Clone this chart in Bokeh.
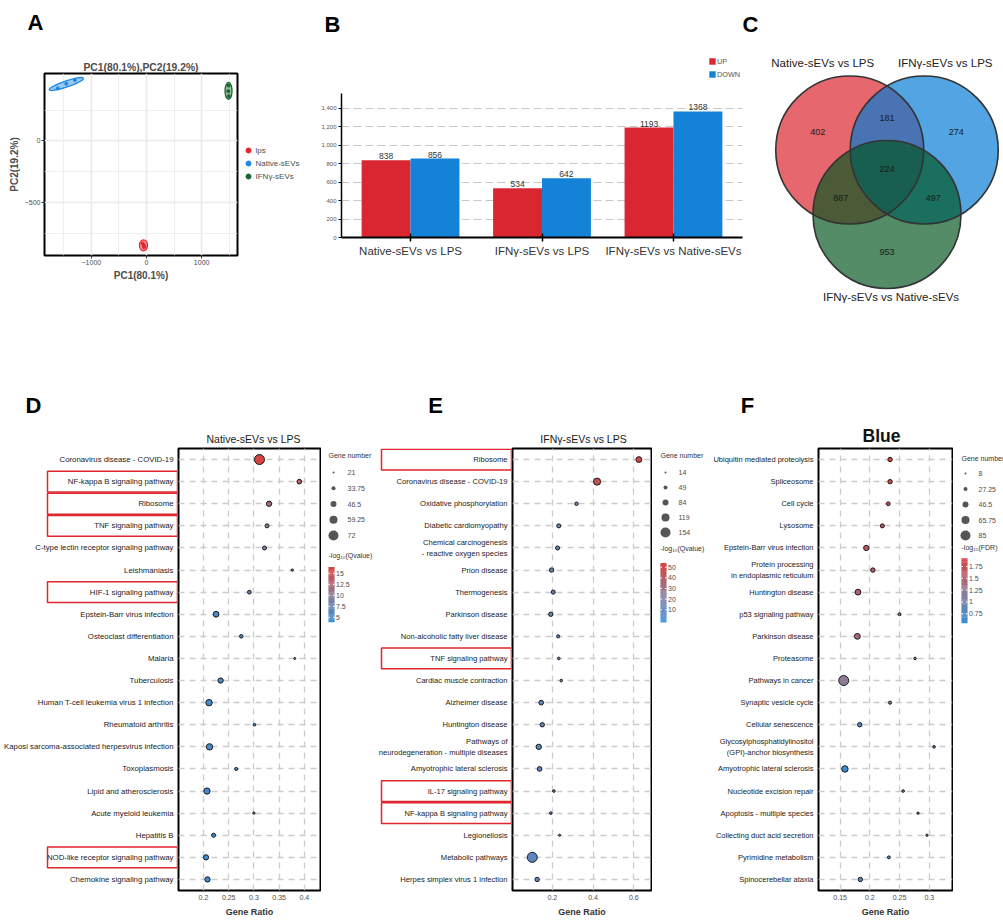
import numpy as np
from bokeh.plotting import figure
from bokeh.models import (Range1d, FactorRange, ColumnDataSource, Legend, LegendItem,
                          FixedTicker, NumeralTickFormatter, LinearColorMapper,
                          CustomJSTickFormatter, Grid, CategoricalTicker)
from bokeh.layouts import row, column
from bokeh.embed import file_html
from bokeh.resources import INLINE
from bokeh.core.properties import value
from bokeh.transform import dodge, transform

FONT = "Liberation Sans"

# ---------------- A: PCA ----------------
pca_groups = ["lps", "Native-sEVs", "IFNγ-sEVs"]
pc1_lps = [-70, -45, -50]
pc2_lps = [-828, -858, -842]
pc1_native = [-1610, -1455, -1300]
pc2_native = [425, 462, 492]
pc1_ifn = [1488, 1482, 1492]
pc2_ifn = [448, 402, 362]

# ---------------- B: DEG counts ----------------
deg_comparisons = ["Native-sEVs vs LPS", "IFNγ-sEVs vs LPS", "IFNγ-sEVs vs Native-sEVs"]
deg_up = [838, 534, 1193]
deg_down = [856, 642, 1368]
deg_yticks = [0, 200, 400, 600, 800, 1000, 1200, 1400]

# ---------------- C: Venn ----------------
venn_sets = ["Native-sEVs vs LPS", "IFNγ-sEVs vs LPS", "IFNγ-sEVs vs Native-sEVs"]
venn_only = [402, 274, 953]
venn_pair_01 = 181
venn_pair_12 = 497
venn_pair_02 = 887
venn_all = 224

# ---------------- D ----------------
terms_D = ["Coronavirus disease - COVID-19", "NF-kappa B signaling pathway", "Ribosome",
           "TNF signaling pathway", "C-type lectin receptor signaling pathway", "Leishmaniasis",
           "HIF-1 signaling pathway", "Epstein-Barr virus infection", "Osteoclast differentiation",
           "Malaria", "Tuberculosis", "Human T-cell leukemia virus 1 infection",
           "Rheumatoid arthritis", "Kaposi sarcoma-associated herpesvirus infection",
           "Toxoplasmosis", "Lipid and atherosclerosis", "Acute myeloid leukemia", "Hepatitis B",
           "NOD-like receptor signaling pathway", "Chemokine signaling pathway"]
ratio_D = [0.311, 0.390, 0.330, 0.326, 0.321, 0.376, 0.291, 0.225, 0.275, 0.381,
           0.234, 0.211, 0.301, 0.212, 0.265, 0.207, 0.300, 0.220, 0.205, 0.208]
genes_D = [72, 38, 42, 34, 34, 23, 32, 45, 31, 21, 42, 49, 25, 49, 28, 48, 23, 34, 42, 42]
qval_D = [16.4, 13.5, 12.0, 9.6, 8.6, 7.0, 6.5, 5.5, 5.4, 5.2, 5.1, 4.9, 4.8, 4.7, 4.6, 4.5, 4.4, 4.3, 4.2, 4.1]
boxed_D = ["NF-kappa B signaling pathway", "Ribosome", "TNF signaling pathway",
           "HIF-1 signaling pathway", "NOD-like receptor signaling pathway"]
xticks_D = [0.2, 0.25, 0.3, 0.35, 0.4]
size_breaks_D = [21, 33.75, 46.5, 59.25, 72]
cticks_D = [5, 7.5, 10, 12.5, 15]

# ---------------- E ----------------
terms_E = ["Ribosome", "Coronavirus disease - COVID-19", "Oxidative phosphorylation",
           "Diabetic cardiomyopathy", "Chemical carcinogenesis\n- reactive oxygen species",
           "Prion disease", "Thermogenesis", "Parkinson disease", "Non-alcoholic fatty liver disease",
           "TNF signaling pathway", "Cardiac muscle contraction", "Alzheimer disease",
           "Huntington disease", "Pathways of\nneurodegeneration - multiple diseases",
           "Amyotrophic lateral sclerosis", "IL-17 signaling pathway", "NF-kappa B signaling pathway",
           "Legionellosis", "Metabolic pathways", "Herpes simplex virus 1 infection"]
ratio_E = [0.625, 0.420, 0.319, 0.232, 0.226, 0.197, 0.205, 0.193, 0.229, 0.232,
           0.244, 0.146, 0.151, 0.134, 0.138, 0.208, 0.193, 0.236, 0.102, 0.126]
genes_E = [81, 103, 40, 50, 50, 56, 50, 56, 34, 25, 25, 61, 56, 73, 61, 25, 25, 16, 154, 56]
qval_E = [53.8, 46, 16, 13, 12.5, 12, 11.5, 11, 10.8, 10.5, 10.2, 10, 9.8, 9.6, 9.4, 9.2, 9.0, 8.8, 8.6, 8.4]
boxed_E = ["Ribosome", "TNF signaling pathway", "IL-17 signaling pathway", "NF-kappa B signaling pathway"]
xticks_E = [0.2, 0.4, 0.6]
size_breaks_E = [14, 49, 84, 119, 154]
cticks_E = [10, 20, 30, 40, 50]

# ---------------- F ----------------
terms_F = ["Ubiquitin mediated proteolysis", "Spliceosome", "Cell cycle", "Lysosome",
           "Epstein-Barr virus infection", "Protein processing\nin endoplasmic reticulum",
           "Huntington disease", "p53 signaling pathway", "Parkinson disease", "Proteasome",
           "Pathways in cancer", "Synaptic vesicle cycle", "Cellular senescence",
           "Glycosylphosphatidylinositol\n(GPI)-anchor biosynthesis", "Amyotrophic lateral sclerosis",
           "Nucleotide excision repair", "Apoptosis - multiple species",
           "Collecting duct acid secretion", "Pyrimidine metabolism", "Spinocerebellar ataxia"]
ratio_F = [0.234, 0.234, 0.231, 0.221, 0.194, 0.205, 0.180, 0.250, 0.179, 0.276,
           0.156, 0.234, 0.183, 0.308, 0.158, 0.256, 0.281, 0.296, 0.232, 0.184]
genes_F = [31, 31, 25, 28, 40, 31, 45, 17, 45, 14, 85, 19, 31, 14, 51, 14, 11, 11, 17, 31]
fdr_F = [1.92, 1.88, 1.85, 1.75, 1.7, 1.65, 1.55, 1.5, 1.45, 1.4,
         1.2, 1.15, 0.75, 0.75, 0.6, 0.7, 0.7, 0.7, 0.7, 0.7]
boxed_F = []
xticks_F = [0.15, 0.2, 0.25, 0.3]
size_breaks_F = [8, 27.25, 46.5, 65.75, 85]
cticks_F = [0.75, 1, 1.25, 1.5, 1.75]

panel_letters = ["A", "B", "C", "D", "E", "F"]
panel_titles = ["Native-sEVs vs LPS", "IFNγ-sEVs vs LPS", "Blue"]

# ================= helpers =================
W = 1003
HDR1_Y, HDR1_H = 0, 55
ROW1_Y, ROW1_H = 55, 275
HDR2_Y, HDR2_H = 330, 116
ROW2_Y, ROW2_H = 446, 478
FT2, FB2 = 448, 890


def make_fig(x0, y0, w, h, frame, xr, yr, x_axis=True, y_axis=True, title=None):
    fl, ft, frr, fb = frame
    kw = {}
    if not x_axis:
        kw["x_axis_location"] = None
    if not y_axis:
        kw["y_axis_location"] = None
    p = figure(width=w, height=h, x_range=xr, y_range=yr, title=title,
               toolbar_location=None, output_backend="svg",
               min_border_left=fl - x0, min_border_right=x0 + w - frr,
               min_border_top=ft - y0, min_border_bottom=y0 + h - fb, **kw)
    if "frame_align" in p.properties():
        p.frame_align = False
    p.outline_line_color = None
    p.background_fill_color = "white"
    p.border_fill_color = "white"
    return p


def pix_fig(x0, y0, w, h, ft=None, fb=None):
    ft = y0 if ft is None else ft
    fb = y0 + h if fb is None else fb
    p = make_fig(x0, y0, w, h, (x0, ft, x0 + w, fb), Range1d(x0, x0 + w), Range1d(fb, ft),
                 x_axis=False, y_axis=False)
    p.grid.visible = False
    return p


def txt(p, xs, ys, texts, size, bold=False, color="#222222", align="center",
        baseline="middle"):
    p.text(x=xs, y=ys, text=texts, text_font=value(FONT), text_font_size=f"{size}px",
           text_font_style="bold" if bold else "normal", text_color=color,
           text_align=align, text_baseline=baseline)


def lerp_palette(stops, n=256):
    out = []
    for i in range(n):
        t = i / (n - 1) * (len(stops) - 1)
        k = min(int(t), len(stops) - 2)
        f = t - k
        c = [round(stops[k][m] * (1 - f) + stops[k + 1][m] * f) for m in range(3)]
        out.append("#%02x%02x%02x" % tuple(c))
    return out


PALETTE = lerp_palette([(59, 141, 216), (143, 124, 148), (217, 66, 66)])


def dot_size(n, lo, hi):
    return 2.0 + 8.0 * (n - lo) / (hi - lo)


# ================= header (top) =================
hdr1 = pix_fig(0, HDR1_Y, W, HDR1_H)
txt(hdr1, [35, 332, 750], [22, 24, 24], panel_letters[:3], 22, bold=True, color="black")

# ================= Panel A =================
frA = (44, 73, 237, 255)
pA = make_fig(0, ROW1_Y, 239, ROW1_H, frA, Range1d(-1850, 1650), Range1d(-925, 545),
              title="PC1(80.1%),PC2(19.2%)")
pA.title.align = "center"
pA.title.text_font = FONT
pA.title.text_font_size = "10.3px"
pA.title.text_font_style = "bold"
pA.title.text_color = "#4d4d4d"
pA.title.standoff = 2
pA.outline_line_color = "black"
pA.outline_line_width = 2
xtA = FixedTicker(ticks=[-1000, 0, 1000], minor_ticks=[-1500, -500, 500, 1500])
ytA = FixedTicker(ticks=[-500, 0], minor_ticks=[-750, -250, 250])
pA.xaxis.ticker = xtA
pA.xgrid.ticker = xtA
pA.yaxis.ticker = ytA
pA.ygrid.ticker = ytA
for ax in (pA.xaxis[0], pA.yaxis[0]):
    ax.axis_line_color = None
    ax.major_tick_out = 3
    ax.major_tick_in = 0
    ax.major_tick_line_color = "#333333"
    ax.minor_tick_out = 0
    ax.minor_tick_in = 0
    ax.major_label_text_font = FONT
    ax.major_label_text_font_size = "7px"
    ax.major_label_text_color = "#4d4d4d"
    ax.major_label_standoff = 1
    ax.axis_label_text_font = FONT
    ax.axis_label_text_font_size = "10px"
    ax.axis_label_text_font_style = "bold"
    ax.axis_label_text_color = "#4d4d4d"
    ax.axis_label_standoff = 2
pA.xaxis.axis_label = "PC1(80.1%)"
pA.yaxis.axis_label = "PC2(19.2%)"
for g in (pA.xgrid[0], pA.ygrid[0]):
    g.grid_line_color = "#ebebeb"
    g.grid_line_width = 1.6
    g.minor_grid_line_color = "#ebebeb"
    g.minor_grid_line_width = 0.8

colA = ["#e3242b", "#1e88e5", "#17692f"]
pc1s = [pc1_lps, pc1_native, pc1_ifn]
pc2s = [pc2_lps, pc2_native, pc2_ifn]
ell_w = [8, 36, 7]
ell_h = [11, 6, 17]
ell_a = [0, 0.33, 0]
for g, c, xs, ys, ew, eh, ea in zip(pca_groups, colA, pc1s, pc2s, ell_w, ell_h, ell_a):
    pA.ellipse(x=[float(np.mean(xs))], y=[float(np.mean(ys))], width=ew, height=eh, angle=ea,
               width_units="screen", height_units="screen", fill_color=c, fill_alpha=0.45,
               line_color=c, line_width=1.3)
    pA.scatter(x=xs, y=ys, size=3, fill_color=c, line_color=c)

# legend of A (own small figure, right of the panel)
legA = pix_fig(239, ROW1_Y, 71, ROW1_H)
leg_y = [150, 163, 176]
legA.scatter(x=[248] * 3, y=leg_y, size=5, fill_color=colA, line_color=colA)
txt(legA, [255] * 3, leg_y, pca_groups, 8, color="#4d4d4d", align="left")

# ================= Panel B =================
frB = (341, 55, 742, 237)
pB = make_fig(310, ROW1_Y, 447, ROW1_H, frB,
              FactorRange(factors=deg_comparisons, range_padding=0.0167), Range1d(0, 1975))
srcB = ColumnDataSource(dict(cmp=deg_comparisons, up=deg_up, down=deg_down,
                             up_t=[str(v) for v in deg_up], down_t=[str(v) for v in deg_down]))
bw = 0.372
RED, BLUE = "#d92732", "#1482d7"
rU = pB.vbar(x=dodge("cmp", -bw / 2, range=pB.x_range), top="up", width=bw, source=srcB,
             fill_color=RED, line_color=None)
rD = pB.vbar(x=dodge("cmp", bw / 2, range=pB.x_range), top="down", width=bw, source=srcB,
             fill_color=BLUE, line_color=None)
for off, col in ((-bw / 2, "up"), (bw / 2, "down")):
    pB.text(x=dodge("cmp", off, range=pB.x_range), y=col, text=col + "_t", source=srcB,
            text_align="center", text_baseline="bottom", y_offset=-1,
            text_font=value(FONT), text_font_size="8.5px", text_color="#333333")
pB.yaxis.ticker = FixedTicker(ticks=deg_yticks)
pB.yaxis.formatter = NumeralTickFormatter(format="0,0")
pB.yaxis.bounds = (0, 1560)
pB.ygrid.ticker = FixedTicker(ticks=deg_yticks[1:])
pB.ygrid.grid_line_dash = "8 4"
pB.ygrid.grid_line_color = "#c8c8c8"
pB.ygrid.grid_line_width = 1.2
pB.xgrid.visible = False
xa = pB.xaxis[0]
xa.axis_line_width = 2
xa.axis_line_color = "black"
xa.major_tick_in = 4
xa.major_tick_out = 4
xa.major_tick_line_width = 1.5
xa.major_tick_line_color = "black"
xa.major_label_text_font = FONT
xa.major_label_text_font_size = "11.5px"
xa.major_label_text_color = "#333333"
xa.major_label_standoff = 3
ya = pB.yaxis[0]
ya.axis_line_width = 1.5
ya.axis_line_color = "black"
ya.major_tick_out = 3
ya.major_tick_in = 0
ya.major_tick_line_color = "black"
ya.minor_tick_out = 0
ya.minor_tick_in = 0
ya.major_label_text_font = FONT
ya.major_label_text_font_size = "6px"
ya.major_label_text_color = "#555555"
ya.major_label_standoff = 2
legB = Legend(items=[LegendItem(label="UP", renderers=[rU]), LegendItem(label="DOWN", renderers=[rD])],
              location=(367, 158), glyph_width=8, glyph_height=8, label_height=10,
              label_standoff=1, spacing=3, padding=0, margin=0,
              label_text_font=FONT, label_text_font_size="7.3px", label_text_color="#555555",
              border_line_color=None, background_fill_alpha=0)
pB.add_layout(legB)

# ================= Panel C =================
pC = pix_fig(757, ROW1_Y, W - 757, ROW1_H)
cx0, cy0, dist, rad = 886.5, 171.0, 43.0, 74.0
ang = np.radians([150, 30, 270])
ccx = cx0 + dist * np.cos(ang)
ccy = cy0 - dist * np.sin(ang)
venn_cols = ["#dc1f2a", "#0079d4", "#01561f"]
pC.circle(x=ccx, y=ccy, radius=rad, fill_color=venn_cols, fill_alpha=0.68, line_color=None)
pC.circle(x=ccx, y=ccy, radius=rad, fill_color=None, line_color="#333333", line_width=1.6)
ux = (ccx - cx0) / dist
uy = (ccy - cy0) / dist
lab_x, lab_y, lab_t = [], [], []
for i in range(3):
    lab_x.append(ccx[i] + ux[i] * 0.5 * rad)
    lab_y.append(ccy[i] + uy[i] * 0.5 * rad)
    lab_t.append(str(venn_only[i]))
for (i, j), n in (((0, 1), venn_pair_01), ((1, 2), venn_pair_12), ((0, 2), venn_pair_02)):
    mx, my = (ccx[i] + ccx[j]) / 2 - cx0, (ccy[i] + ccy[j]) / 2 - cy0
    nrm = np.hypot(mx, my)
    lab_x.append(cx0 + mx / nrm * 0.72 * rad)
    lab_y.append(cy0 + my / nrm * 0.72 * rad)
    lab_t.append(str(n))
lab_x.append(cx0)
lab_y.append(cy0 - 3)
lab_t.append(str(venn_all))
txt(pC, lab_x, lab_y, lab_t, 9, color="#1a1a1a")
name_x = [ccx[0] - 27, ccx[1] + 21, ccx[2] + 4]
name_y = [ccy[0] - rad - 13, ccy[1] - rad - 13, ccy[2] + rad + 8]
txt(pC, name_x, name_y, venn_sets, 11.5, color="#222222")

# ================= header (bottom) =================
hdr2 = pix_fig(0, HDR2_Y, W, HDR2_H)
txt(hdr2, [33, 435, 747], [405, 405, 405], panel_letters[3:], 22, bold=True, color="black")
txt(hdr2, [253, 583], [438, 438], panel_titles[:2], 10.5, color="#1a1a1a")
txt(hdr2, [881], [435], panel_titles[2:], 17.5, bold=True, color="#111111")


# ================= Panels D, E, F =================
def dot_panel(lab_x0, dot_x0, dot_w, terms, ratio, genes, score, xr, xticks, size_breaks,
              crange, boxed, box_lr, lab_font):
    factors = list(reversed(terms))
    yr = FactorRange(factors=factors, factor_padding=0.0, range_padding=0.0)
    fl, frr = dot_x0 + 1, dot_x0 + dot_w - 1
    p = make_fig(dot_x0, ROW2_Y, dot_w, ROW2_H, (fl, FT2, frr, FB2), Range1d(*xr), yr,
                 y_axis=False)
    p.outline_line_color = "black"
    p.outline_line_width = 2
    mapper = LinearColorMapper(palette=PALETTE, low=crange[0], high=crange[1])
    sizes = [dot_size(g, size_breaks[0], size_breaks[-1]) for g in genes]
    src = ColumnDataSource(dict(term=terms, ratio=ratio, size=sizes, score=score))
    p.scatter(x="ratio", y="term", size="size", source=src,
              fill_color=transform("score", mapper), line_color="#1a1a1a", line_width=1)
    xa = p.xaxis[0]
    xa.ticker = FixedTicker(ticks=xticks)
    xa.formatter = CustomJSTickFormatter(code="return String(Number(tick.toFixed(4)));")
    xa.axis_line_color = None
    xa.major_tick_out = 0
    xa.major_tick_in = 0
    xa.minor_tick_out = 0
    xa.minor_tick_in = 0
    xa.major_label_text_font = FONT
    xa.major_label_text_font_size = "7px"
    xa.major_label_text_color = "#4d4d4d"
    xa.major_label_standoff = 4
    xa.axis_label = "Gene Ratio"
    xa.axis_label_text_font = FONT
    xa.axis_label_text_font_size = "9px"
    xa.axis_label_text_font_style = "bold"
    xa.axis_label_text_color = "#333333"
    xa.axis_label_standoff = 4
    p.xgrid.ticker = xa.ticker
    if len(p.ygrid) == 0:
        p.add_layout(Grid(dimension=1, ticker=CategoricalTicker()))
    for g in (p.xgrid[0], p.ygrid[0]):
        g.grid_line_color = "#cccccc"
        g.grid_line_width = 1.3
        g.grid_line_dash = "6 5"
    # term labels + red highlight boxes, in a figure sharing the y range
    lab_w = dot_x0 - lab_x0
    lab = make_fig(lab_x0, ROW2_Y, lab_w, ROW2_H, (lab_x0, FT2, dot_x0, FB2),
                   Range1d(lab_x0, dot_x0), yr, x_axis=False, y_axis=False)
    lab.grid.visible = False
    if boxed:
        bsrc = ColumnDataSource(dict(term=boxed))
        lab.rect(x=(box_lr[0] + box_lr[1]) / 2, y="term", width=box_lr[1] - box_lr[0],
                 height=0.94, source=bsrc, fill_color=None, line_color="#e0262e", line_width=1.5)
    lab.text(x=fl - 5, y="term", text="term", source=ColumnDataSource(dict(term=terms)),
             text_align="right", text_baseline="middle", text_font=value(FONT),
             text_font_size=f"{lab_font}px", text_color="#222222")
    return lab, p, mapper


def legend_panel(x0, w, mapper, size_breaks, title_x, title_y, dot_x, dot_y0, dot_dy, lab_x,
                 ctitle, ctitle_y, bar_x, bar_top, bar_bot, crange, cticks):
    p = pix_fig(x0, ROW2_Y, w, ROW2_H, FT2, FB2)
    ys = [dot_y0 + i * dot_dy for i in range(len(size_breaks))]
    sizes = [dot_size(s, size_breaks[0], size_breaks[-1]) for s in size_breaks]
    p.scatter(x=[dot_x] * len(ys), y=ys, size=sizes, fill_color="#555555", line_color=None)
    txt(p, [lab_x] * len(ys), ys, [f"{s:g}" for s in size_breaks], 7, color="#4d4d4d", align="left")
    txt(p, [title_x, title_x], [title_y, ctitle_y], ["Gene number", ctitle], 7,
        color="#333333", align="left")
    vmin, vmax = crange
    edges = np.linspace(vmin, vmax, 61)

    def ypos(v):
        return bar_bot - (np.asarray(v, dtype=float) - vmin) / (vmax - vmin) * (bar_bot - bar_top)

    mids = (edges[:-1] + edges[1:]) / 2
    bar_src = ColumnDataSource(dict(v=mids, b=ypos(edges[:-1]), t=ypos(edges[1:]) - 0.3))
    p.quad(left=bar_x, right=bar_x + 6, bottom="b", top="t",
           fill_color=transform("v", mapper), line_color=None, source=bar_src)
    ty = list(ypos(cticks))
    p.segment(x0=[bar_x] * len(ty), x1=[bar_x + 1.5] * len(ty), y0=ty, y1=ty,
              line_color="white", line_width=1)
    p.segment(x0=[bar_x + 4.5] * len(ty), x1=[bar_x + 6] * len(ty), y0=ty, y1=ty,
              line_color="white", line_width=1)
    txt(p, [bar_x + 7.5] * len(ty), ty, [f"{c:g}" for c in cticks], 7, color="#4d4d4d",
        align="left")
    return p


labD, pD, mapD = dot_panel(0, 177, 144, terms_D, ratio_D, genes_D, qval_D, (0.1505, 0.432),
                           xticks_D, size_breaks_D, (3.9, 16.4), boxed_D, (47, 177), 7.8)
lD = legend_panel(321, 55, mapD, size_breaks_D, 328, 455, 333, 472, 15.75, 347,
                  "-log\u2081\u2080(Qvalue)", 555, 328, 566.7, 621.7, (3.9, 16.4), cticks_D)

labE, pE, mapE = dot_panel(376, 511, 141, terms_E, ratio_E, genes_E, qval_E, (0.005, 0.687),
                           xticks_E, size_breaks_E, (-2.0, 53.8), boxed_E, (381, 511), 7.6)
lE = legend_panel(652, 61, mapE, size_breaks_E, 660, 455, 665, 472, 15, 678,
                  "-log\u2081\u2080(Qvalue)", 548, 660, 562.7, 622, (-2.0, 53.8), cticks_E)

labF, pF, mapF = dot_panel(713, 817, 136, terms_F, ratio_F, genes_F, fdr_F, (0.1136, 0.339),
                           xticks_F, size_breaks_F, (0.55, 1.92), boxed_F, (0, 0), 7.5)
lF = legend_panel(953, 50, mapF, size_breaks_F, 961, 458, 965, 473, 15.5, 978,
                  "-log\u2081\u2080(FDR)", 547, 961, 558, 622.7, (0.55, 1.92), cticks_F)

layout = column(
    hdr1,
    row(pA, legA, pB, pC, spacing=0),
    hdr2,
    row(labD, pD, lD, labE, pE, lE, labF, pF, lF, spacing=0),
    spacing=0)
open("out.html", "w").write(file_html(layout, INLINE))
